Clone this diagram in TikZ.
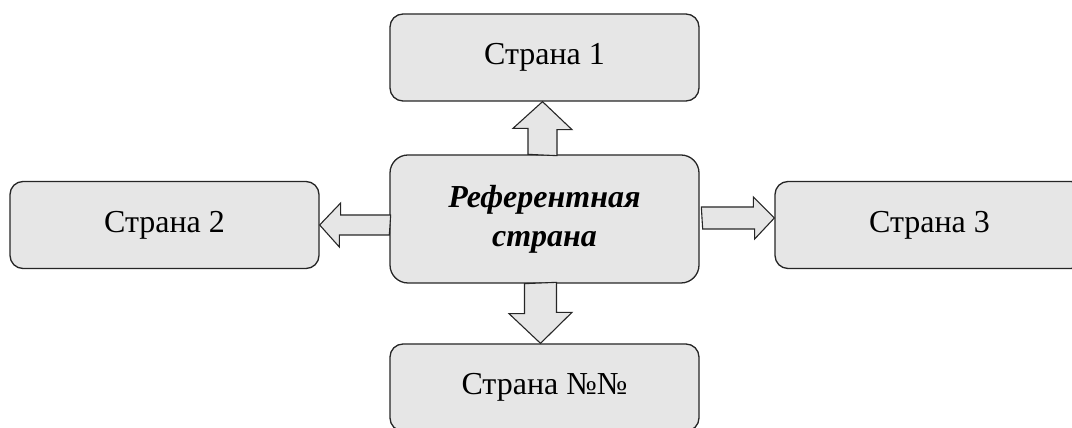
\documentclass[tikz,border=0pt]{standalone}
\usepackage{fontspec}
\setmainfont{Liberation Serif}
\usetikzlibrary{calc}
\definecolor{boxgray}{RGB}{230,230,230}
\tikzset{
  country/.style={draw=black!85, fill=boxgray, line width=1.3pt, rounded corners=13pt,
    minimum width=309pt, minimum height=87pt, align=center, font=\fontsize{32}{39}\selectfont},
  blockarrow/.style={draw=black!85, fill=boxgray, line width=1.1pt, line join=miter}
}
\begin{document}
\begin{tikzpicture}[x=1pt,y=1pt]
\useasboundingbox (0,0) rectangle (1072,428);
\node[country, minimum height=128pt, rounded corners=18pt] (ref) at (544.5,209) {\textbf{\textit{Референтная}}\\\textbf{\textit{страна}}};
\node[country] (c1) at (544.5,370.5) {Страна 1};
\node[country] (c2) at (164.5,203) {Страна 2};
\node[country] (c3) at (929.5,203) {Страна 3};
\node[country] (cN) at (544.5,40.5) {Страна №№};

% up
\draw[blockarrow] ([xshift=-16.5pt]ref.north) -- ++(0,26) -- ++(-15,0) -- ([xshift=-2pt]c1.south)
  -- ++(29.5,-28) -- ++(-15,0) -- ++(0,-26) -- cycle;
% down
\draw[blockarrow] ([xshift=-20pt]ref.south) -- ++(0,-30) -- ++(-15.5,0) -- ([xshift=-4pt]cN.north)
  -- ++(31.5,31) -- ++(-15.5,0) -- ++(0,30) -- cycle;
% left
\draw[blockarrow] ([yshift=-16pt]ref.west) -- ++(-50,0) -- ++(0,-12) -- (c2.east)
  -- ++(21,22) -- ++(0,-12) -- ++(50,0) -- cycle;
% right
\draw[blockarrow] ([shift={(3pt,-10pt)}]ref.east) -- ++(52,0) -- ++(0,-10) -- ([yshift=7pt]c3.west)
  -- ++(-21,21) -- ++(0,-10) -- ++(-52,0) -- cycle;
\end{tikzpicture}
\end{document}
